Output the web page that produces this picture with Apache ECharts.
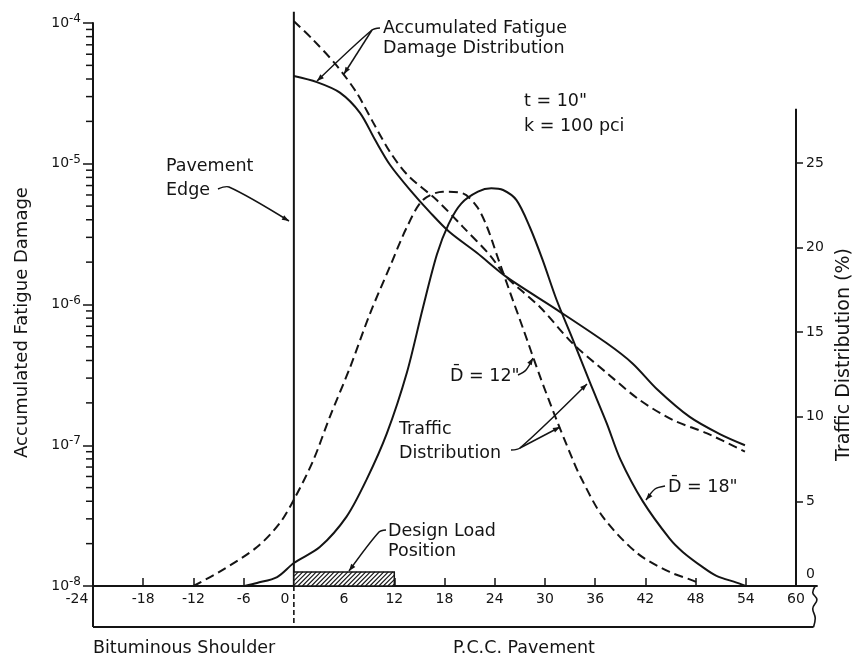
<!DOCTYPE html>
<html><head><meta charset="utf-8">
<script src="https://cdn.jsdelivr.net/npm/echarts@6/dist/echarts.min.js"></script>
<style>html,body{margin:0;padding:0;background:#fff}#c{width:856px;height:659px}</style>
</head><body><div id="c"></div>
<script>
// ---------------- data ----------------
// Lateral position (in.) axis
const xMin = -24, xMax = 60, xStep = 6;
const xTicks = [-24, -18, -12, -6, 0, 6, 12, 18, 24, 30, 36, 42, 48, 54, 60];
const stripRight = 62.5;          // right end of the lateral-position strip (break)
// Accumulated fatigue damage, D = 18" (solid)
const damage18X = [0, 2.75, 5.5, 7.9, 9.7, 11.5, 13.9, 16.3, 18.6, 21.9, 25.4, 31.4, 37.4, 40.5, 43.4, 47.3, 50.9, 53.9];
const damage18Y = [4.2e-5, 3.8e-5, 3.2e-5, 2.3e-5, 1.48e-5, 9.8e-6, 6.5e-6, 4.5e-6, 3.27e-6, 2.32e-6, 1.57e-6, 9.2e-7, 5.3e-7, 3.8e-7, 2.5e-7, 1.59e-7, 1.2e-7, 1.0e-7];
// Accumulated fatigue damage, D = 12" (dashed)
const damage12X = [0, 2.3, 5.1, 7.5, 9.4, 11.5, 13.6, 17.1, 20.2, 23.4, 25.4, 29.4, 33.3, 37.4, 41.3, 45.3, 49.3, 53.9];
const damage12Y = [1.03e-4, 7.6e-5, 5.0e-5, 3.2e-5, 2.0e-5, 1.21e-5, 8.3e-6, 5.5e-6, 3.56e-6, 2.25e-6, 1.57e-6, 9.6e-7, 5.3e-7, 3.26e-7, 2.1e-7, 1.51e-7, 1.22e-7, 9.0e-8];
// Traffic distribution (%), D = 18" (solid)
const traffic18X = [-5.9, -4.4, -2.0, 0, 3.1, 6.3, 8.7, 11.1, 13.5, 15.4, 17.1, 18.5, 20.0, 22.0, 23.6, 25.0, 26.6, 28.2, 29.7, 31.4, 33.3, 35.4, 37.4, 39.0, 41.7, 44.9, 46.5, 48.9, 50.5, 52.9, 54];
const traffic18Y = [0, 0.18, 0.53, 1.36, 2.3, 4.1, 6.3, 9.0, 12.6, 16.4, 19.6, 21.4, 22.6, 23.3, 23.5, 23.4, 22.8, 21.2, 19.3, 16.9, 14.6, 12.0, 9.6, 7.5, 5.0, 2.8, 2.0, 1.1, 0.6, 0.2, 0];
// Traffic distribution (%), D = 12" (dashed)
const traffic12X = [-12, -8.5, -4.4, -1.7, 0, 2.3, 4.3, 6.7, 9.1, 11.5, 13.5, 15.4, 17.8, 20.2, 21.9, 23.1, 24.3, 25.8, 27.4, 29.4, 31.4, 33.3, 34.2, 36.9, 41.0, 44.9, 48.1, 48.5];
const traffic12Y = [0, 0.95, 2.3, 3.7, 5.1, 7.4, 10.0, 12.9, 16.1, 18.9, 21.2, 22.8, 23.3, 23.2, 22.4, 21.2, 19.5, 17.4, 15.2, 12.4, 9.8, 7.5, 6.5, 4.1, 1.95, 0.83, 0.24, 0];
// Design load position (from, to, height on traffic axis)
const designLoad = [0, 12, 0.83];
// Axis extents / ticks
const damageMin = 1e-8, damageMax = 1e-4;
const trafficTicks = [0, 5, 10, 15, 20, 25];
const trafficAxisTop = 28.2;
const trafficMax = 33.27;
const minorMantissas = [2, 3, 4, 5, 6, 7, 8, 9];
const decades = [-8, -7, -6, -5];
const edgeTop = 1.2e-4;          // top of pavement-edge line
const boxBottom = 5.11e-9;       // lower edge of the lateral-position strip
const breakX = [62.3, 62.0, 62.5, 62.0, 62.3, 62.1];
const breakY = [1e-8, 9.0e-9, 8.0e-9, 6.9e-9, 5.9e-9, 5.11e-9];

// ---------------- helpers ----------------
const INK = '#141414';
const FONT = 'DejaVu Sans';
const ANN = '17.5px "' + FONT + '"';
const zip = (xs, ys) => xs.map((x, i) => [x, ys[i]]);
const minorTicks = [];
decades.forEach(d => minorMantissas.forEach(m => minorTicks.push([xMin, m * Math.pow(10, d)])));

// pixel geometry of the grid
const GL = 93, GT = 23, GB = 73;
const pxPerUnit = (796 - GL) / (xMax - xMin);
const gridRightPx = GL + (stripRight - xMin) * pxPerUnit;
const GR = 856 - gridRightPx;
const rightAxisOffset = -(stripRight - xMax) * pxPerUnit;

function lineSeries(data, opts) {
  return Object.assign({
    type: 'line', data, symbol: 'none', clip: false, silent: true,
    lineStyle: { color: INK, width: 2 }, z: 3
  }, opts || {});
}
function txt(s, x, y, extra) {
  return { type: 'text', x, y, silent: true, z: 10,
    style: Object.assign({ text: s, fill: INK, font: ANN, textAlign: 'left', textVerticalAlign: 'middle' }, extra || {}) };
}
function leader(pts) {
  const n = pts.length, a = pts[n - 2], b = pts[n - 1];
  const dx = b[0] - a[0], dy = b[1] - a[1], L = Math.hypot(dx, dy);
  const ux = dx / L, uy = dy / L, h = 7, w = 2.6;
  const bx = b[0] - ux * h, by = b[1] - uy * h;
  return [
    { type: 'polyline', silent: true, z: 10, shape: { points: pts, smooth: 0.3 }, style: { stroke: INK, lineWidth: 1.5, fill: null } },
    { type: 'polygon', silent: true, z: 10, shape: { points: [b, [bx - uy * w, by + ux * w], [bx + uy * w, by - ux * w]] }, style: { fill: INK } }
  ];
}

const chart = echarts.init(document.getElementById('c'), null, { renderer: 'canvas' });
const option = {
  animation: false,
  backgroundColor: '#fff',
  grid: { left: GL, right: GR, top: GT, bottom: GB, outerBoundsMode: 'none', containLabel: false },
  xAxis: {
    type: 'value', min: xMin, max: stripRight, interval: xStep,
    axisLine: { show: true, onZero: false, lineStyle: { color: INK, width: 2 } },
    axisTick: { show: true, inside: true, length: 8, customValues: xTicks, lineStyle: { color: INK, width: 1.5 } },
    splitLine: { show: false },
    axisLabel: {
      customValues: xTicks,
      color: INK, fontFamily: FONT, fontSize: 14, margin: 6,
      formatter: v => v === -24 ? '{a|-24}' : (v === 0 ? '{z|0}' : String(v)),
      rich: { a: { fontSize: 14, fontFamily: FONT, color: INK, padding: [0, 32, 0, 0] },
              z: { fontSize: 14, fontFamily: FONT, color: INK, padding: [0, 18, 0, 0] } }
    }
  },
  yAxis: [{
    type: 'log', logBase: 10, min: damageMin, max: damageMax,
    name: 'Accumulated Fatigue Damage', nameLocation: 'middle', nameGap: 62, nameRotate: 90,
    nameTextStyle: { color: INK, fontFamily: FONT, fontSize: 18, padding: [0, 36, 0, 0] },
    axisLine: { show: true, onZero: false, lineStyle: { color: INK, width: 2 } },
    axisTick: { show: true, inside: false, length: 10, lineStyle: { color: INK, width: 1.5 } },
    splitLine: { show: false },
    axisLabel: {
      margin: 12, color: INK, fontFamily: FONT,
      formatter: v => { const e = Math.round(Math.log10(v)); return '{b|10}{s|' + (e < 0 ? '-' : '') + Math.abs(e) + '}'; },
      rich: { b: { fontSize: 14, fontFamily: FONT, color: INK },
              s: { fontSize: 12, fontFamily: FONT, color: INK, verticalAlign: 'bottom', padding: [0, 0, 8, 0] } }
    }
  }, {
    type: 'value', position: 'right', offset: rightAxisOffset, min: 0, max: trafficMax,
    name: 'Traffic Distribution (%)', nameLocation: 'middle', nameGap: 34, nameRotate: 90,
    nameTextStyle: { color: INK, fontFamily: FONT, fontSize: 19, padding: [0, 100, 0, 0] },
    axisLine: { show: false, onZero: false },
    axisTick: { show: true, customValues: trafficTicks, length: 7, lineStyle: { color: INK, width: 1.5 } },
    axisLabel: { customValues: trafficTicks, color: INK, fontFamily: FONT, fontSize: 14, margin: 10,
      formatter: v => v === 0 ? '{z|0}' : String(v),
      rich: { z: { fontSize: 14, fontFamily: FONT, color: INK, padding: [0, 0, 24, 0] } } },
    splitLine: { show: false }
  }],
  series: [
    lineSeries(zip(damage18X, damage18Y), { name: 'Damage D=18', yAxisIndex: 0, smooth: 0.3 }),
    lineSeries(zip(damage12X, damage12Y), { name: 'Damage D=12', yAxisIndex: 0, smooth: 0.3, lineStyle: { color: INK, width: 2, type: [9, 5] } }),
    lineSeries(zip(traffic18X, traffic18Y), { name: 'Traffic D=18', yAxisIndex: 1, smooth: 0.3 }),
    lineSeries(zip(traffic12X, traffic12Y), { name: 'Traffic D=12', yAxisIndex: 1, smooth: 0.3, lineStyle: { color: INK, width: 2, type: [9, 5] } }),
    // pavement edge
    lineSeries([[0, damageMin], [0, edgeTop]], { yAxisIndex: 0, lineStyle: { color: INK, width: 2 } }),
    lineSeries([[0, damageMin], [0, boxBottom]], { yAxisIndex: 0, lineStyle: { color: INK, width: 1.6, type: [5, 3] } }),
    // right axis line (drawn only up to its top)
    lineSeries([[xMax, 0], [xMax, trafficAxisTop]], { yAxisIndex: 1, lineStyle: { color: INK, width: 2 } }),
    // lateral position strip
    lineSeries([[xMin, boxBottom], [breakX[breakX.length - 1], boxBottom]], { yAxisIndex: 0, lineStyle: { color: INK, width: 2 } }),
    lineSeries([[xMin, damageMin], [xMin, boxBottom]], { yAxisIndex: 0, lineStyle: { color: INK, width: 2 } }),
    lineSeries(zip(breakX, breakY), { yAxisIndex: 0, smooth: 0.4, lineStyle: { color: INK, width: 1.6 } }),
    // design load position (hatched)
    {
      type: 'custom', yAxisIndex: 1, silent: true, clip: false, z: 4,
      encode: { x: [0, 1], y: 2 },
      data: [designLoad],
      renderItem: (params, api) => {
        const a = api.coord([api.value(0), api.value(2)]);
        const b = api.coord([api.value(1), 0]);
        const L = a[0], T = a[1], R = b[0], B = b[1], H = B - T;
        const ch = [{ type: 'rect', shape: { x: L, y: T, width: R - L, height: H }, style: { fill: '#fff', stroke: INK, lineWidth: 1.5 } }];
        for (let s = L - H; s < R; s += 4.5) {
          let x1 = s, y1 = B, x2 = s + H, y2 = T;
          if (x1 < L) { y1 = B - (L - x1); x1 = L; }
          if (x2 > R) { y2 = T + (x2 - R); x2 = R; }
          if (x2 <= x1) continue;
          ch.push({ type: 'line', shape: { x1, y1, x2, y2 }, style: { stroke: INK, lineWidth: 1.1 } });
        }
        return { type: 'group', children: ch };
      }
    },
    // log minor ticks on the damage axis
    {
      type: 'custom', yAxisIndex: 0, silent: true, clip: false, z: 4,
      encode: { x: 0, y: 1 },
      data: minorTicks,
      renderItem: (params, api) => {
        const p = api.coord([api.value(0), api.value(1)]);
        return { type: 'line', shape: { x1: p[0] - 7, y1: p[1], x2: p[0], y2: p[1] }, style: { stroke: INK, lineWidth: 1.5 } };
      }
    }
  ],
  graphic: [].concat(
    [txt('Accumulated Fatigue', 383, 28), txt('Damage Distribution', 383, 48)],
    leader([[380, 28], [372, 30], [317, 81]]),
    leader([[372, 30], [344, 74]]),
    [txt('t = 10"', 524, 101), txt('k = 100 pci', 524, 126)],
    [txt('Pavement', 166, 166), txt('Edge', 166, 190)],
    leader([[218, 189], [229, 187], [289, 221]]),
    [txt('D\u0304 = 12"', 450, 376)],
    leader([[518, 375], [526, 370], [533, 358]]),
    [txt('Traffic', 399, 429), txt('Distribution', 399, 453)],
    leader([[511, 450], [520, 448], [587, 384]]),
    leader([[520, 448], [560, 427]]),
    [txt('D\u0304 = 18"', 668, 487)],
    leader([[665, 486], [655, 489], [646, 500]]),
    [txt('Design Load', 388, 531), txt('Position', 388, 551)],
    leader([[386, 530], [379, 532], [349, 571]]),
    [txt('Bituminous Shoulder', 93, 648), txt('P.C.C. Pavement', 453, 648)]
  )
};
chart.setOption(option);
</script></body></html>
